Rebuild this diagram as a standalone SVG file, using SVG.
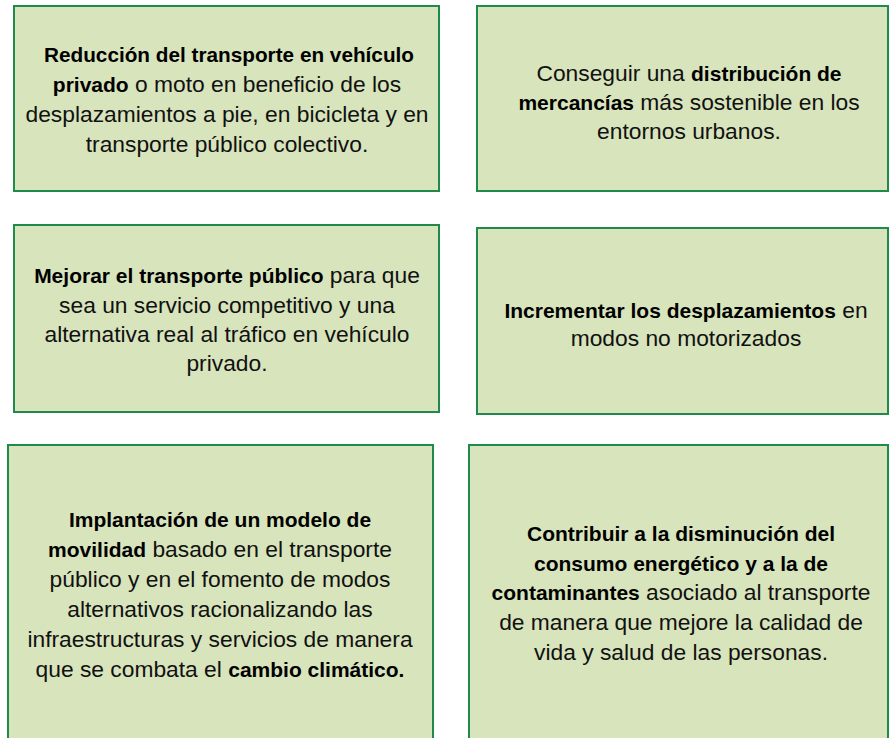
<svg xmlns="http://www.w3.org/2000/svg" width="890" height="738" viewBox="0 0 890 738">
<style>
.box{fill:#d8e4bc;stroke:#1f8a4c;stroke-width:2}
text{font-family:"Liberation Sans",Arial,sans-serif;font-size:22.8px;fill:#111;text-anchor:middle}
.b{font-family:"Liberation Sans",Arial,sans-serif;font-size:21px;font-weight:bold;fill:#000}
</style>
<rect width="890" height="738" fill="#fff"/>
<g id="node1">
<rect class="box" x="14" y="6" width="425" height="185"/>
<text x="229" y="62" class="b" textLength="370" lengthAdjust="spacingAndGlyphs">Reducción del transporte en vehículo</text>
<text x="227" y="92"><tspan class="b">privado</tspan> o moto en beneficio de los</text>
<text x="227" y="122">desplazamientos a pie, en bicicleta y en</text>
<text x="227" y="152">transporte público colectivo.</text>
</g>
<g id="node2">
<rect class="box" x="477" y="6" width="411" height="185"/>
<text x="689" y="81">Conseguir una <tspan class="b">distribución de</tspan></text>
<text x="689" y="110"><tspan class="b">mercancías</tspan> más sostenible en los</text>
<text x="689" y="139">entornos urbanos.</text>
</g>
<g id="node3">
<rect class="box" x="14" y="225" width="425" height="187"/>
<text x="227" y="283"><tspan class="b">Mejorar el transporte público</tspan> para que</text>
<text x="227" y="313">sea un servicio competitivo y una</text>
<text x="227" y="342">alternativa real al tráfico en vehículo</text>
<text x="227" y="371">privado.</text>
</g>
<g id="node4">
<rect class="box" x="477" y="228" width="411" height="186"/>
<text x="686" y="318"><tspan class="b">Incrementar los desplazamientos</tspan> en</text>
<text x="686" y="346">modos no motorizados</text>
</g>
<g id="node5">
<rect class="box" x="8" y="445" width="425" height="300"/>
<text x="220" y="527"><tspan class="b">Implantación de un modelo de</tspan></text>
<text x="220" y="557"><tspan class="b">movilidad</tspan> basado en el transporte</text>
<text x="220" y="587">público y en el fomento de modos</text>
<text x="220" y="617">alternativos racionalizando las</text>
<text x="220" y="647">infraestructuras y servicios de manera</text>
<text x="220" y="677">que se combata el <tspan class="b">cambio climático.</tspan></text>
</g>
<g id="node6">
<rect class="box" x="469" y="445" width="419" height="300"/>
<text x="681" y="541"><tspan class="b">Contribuir a la disminución del</tspan></text>
<text x="681" y="571"><tspan class="b">consumo energético y a la de</tspan></text>
<text x="681" y="600"><tspan class="b">contaminantes</tspan> asociado al transporte</text>
<text x="681" y="630">de manera que mejore la calidad de</text>
<text x="681" y="660">vida y salud de las personas.</text>
</g>
<g id="connectors"/>
</svg>
